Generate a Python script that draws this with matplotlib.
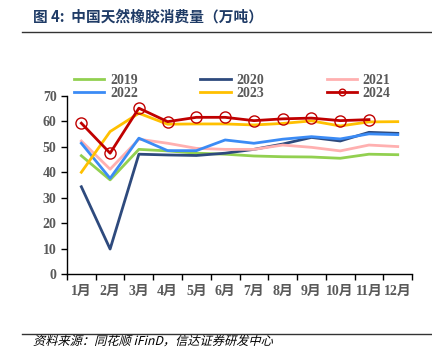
import matplotlib.pyplot as plt
import numpy as np
from matplotlib.lines import Line2D
from matplotlib.patches import PathPatch
from matplotlib.textpath import TextPath
from matplotlib.font_manager import FontProperties
from matplotlib.transforms import Affine2D

months = ['1月', '2月', '3月', '4月', '5月', '6月', '7月', '8月', '9月', '10月', '11月', '12月']
y2019 = [46.5, 37.0, 49.0, 48.4, 47.5, 47.1, 46.4, 46.1, 46.0, 45.5, 47.1, 46.9]
y2020 = [34.3, 9.8, 47.1, 46.8, 46.6, 47.5, 49.0, 51.1, 53.7, 52.3, 55.7, 55.3]
y2021 = [52.3, 41.2, 53.0, 51.4, 49.4, 49.0, 49.0, 50.7, 49.8, 48.4, 50.7, 50.1]
y2022 = [51.4, 37.6, 53.4, 48.5, 48.5, 52.7, 51.4, 53.0, 54.0, 53.1, 55.1, 54.8]
y2023 = [40.0, 56.0, 63.2, 58.9, 59.0, 59.0, 58.6, 59.2, 60.2, 58.2, 59.8, 59.9]
y2024 = [59.3, 47.5, 65.2, 59.9, 61.6, 61.6, 60.3, 61.0, 61.3, 60.3, 60.7]

serif = ['Liberation Serif', 'Noto Sans CJK SC']
cjk = ['Noto Sans CJK SC', 'DejaVu Sans']
grey = '#595959'

fig = plt.figure(figsize=(4.32, 3.49), dpi=100)
ax = fig.add_axes([0.155, 0.215, 0.799, 0.51])

x = np.arange(12)
lw = 2.0
l19, = ax.plot(x, y2019, color='#92D050', lw=lw, label='2019')
l20, = ax.plot(x, y2020, color='#2E4A7D', lw=lw, label='2020')
l21, = ax.plot(x, y2021, color='#FFB0B0', lw=lw, label='2021')
l22, = ax.plot(x, y2022, color='#3B8BF5', lw=lw, label='2022')
l23, = ax.plot(x, y2023, color='#FFC000', lw=lw, label='2023')
l24, = ax.plot(np.arange(len(y2024)), y2024, color='#C00000', lw=lw,
               marker='o', ms=8, mfc='none', mec='#C00000', mew=1.0, label='2024')

ax.set_xlim(-0.5, 11.5)
ax.set_ylim(0, 70)
ax.set_yticks(range(0, 71, 10))
ax.set_xticks(np.arange(-0.5, 12, 1))
ax.set_xticklabels([])
ax.set_xticks(x, minor=True)
ax.set_xticklabels(months, minor=True)
ax.tick_params(axis='x', which='major', length=4, width=1, direction='out')
ax.tick_params(axis='x', which='minor', length=0, pad=8)
ax.tick_params(axis='y', length=4, width=1, direction='out')
for lab in ax.get_xticklabels(minor=True) + ax.get_yticklabels():
    lab.set_family(serif)
    lab.set_fontweight('bold')
    lab.set_fontsize(10)
    lab.set_color(grey)
for s in ['top', 'right']:
    ax.spines[s].set_visible(False)
for s in ['left', 'bottom']:
    ax.spines[s].set_color('black')
    ax.spines[s].set_linewidth(1.0)

handles = [l19, l22, l20, l23, l21, l24]
leg = fig.legend(handles, [h.get_label() for h in handles], ncol=3,
                 loc='upper left', bbox_to_anchor=(0.158, 0.805), frameon=False,
                 prop={'family': serif, 'weight': 'bold', 'size': 10},
                 handlelength=2.2, handletextpad=0.4, columnspacing=4.5,
                 labelspacing=0.05, borderaxespad=0, markerscale=0.6)
for t in leg.get_texts():
    t.set_color(grey)

# header and footer
fig.text(0.076, 0.953, '图 4:  中国天然橡胶消费量（万吨）', family=cjk, fontsize=10.6,
         fontweight='bold', color='#1F3B66', va='center')
fig.add_artist(Line2D([0.051, 1.0], [0.908, 0.908], color='#333333', lw=1.0))
fig.add_artist(Line2D([0.051, 1.0], [0.043, 0.043], color='#333333', lw=1.0))

# slanted source note (CJK font has no italic face)
src = TextPath((0, 0), '资料来源：同花顺 iFinD，信达证券研发中心', size=8.8,
               prop=FontProperties(family='Noto Sans CJK SC'))
src_tf = (Affine2D().skew_deg(14, 0).scale(1 / 72).translate(0.33, 0.04)
          + fig.dpi_scale_trans)
fig.add_artist(PathPatch(src, transform=src_tf, facecolor='black', edgecolor='none'))

fig.savefig('out.png', dpi=100)
